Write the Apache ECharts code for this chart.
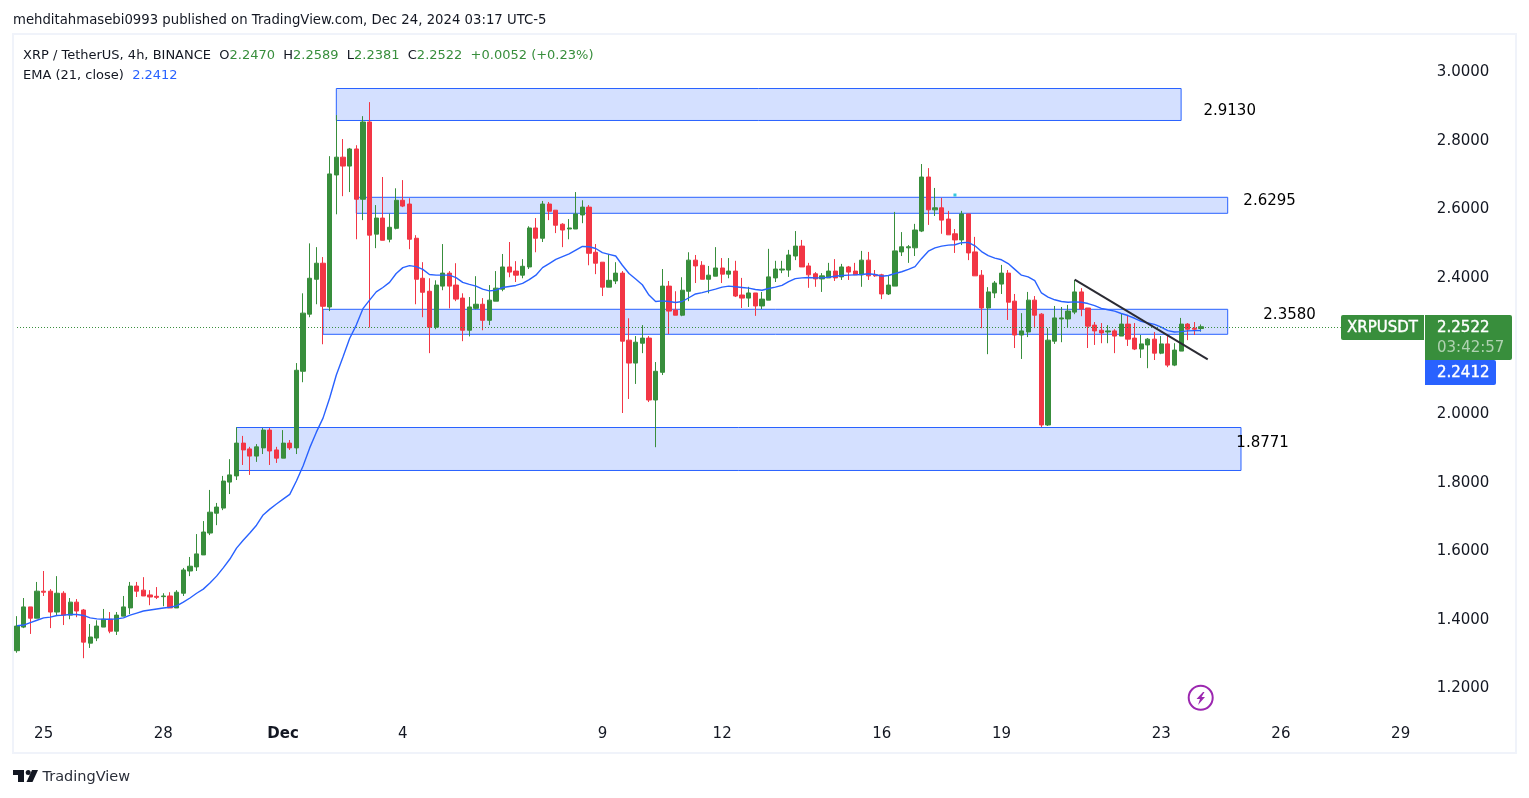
<!DOCTYPE html>
<html>
<head>
<meta charset="utf-8">
<title>XRPUSDT 4h</title>
<script src="https://cdn.jsdelivr.net/npm/echarts@6/dist/echarts.min.js"></script>
<style>
  html, body { margin: 0; padding: 0; background: #fff; }
  #main { width: 1529px; height: 798px; }
</style>
</head>
<body>
<div id="main"></div>
<script>
// values, one group of ten per line
const opens = [
  1.305,1.374,1.433,1.400,1.479,1.479,1.418,1.473,1.409,1.447,
  1.424,1.327,1.342,1.374,1.397,1.362,1.406,1.430,1.494,1.482,
  1.468,1.464,1.463,1.465,1.430,1.473,1.538,1.550,1.585,1.649,
  1.707,1.722,1.798,1.816,1.912,1.895,1.874,1.898,1.950,1.892,
  1.868,1.912,1.898,2.122,2.289,2.391,2.438,2.310,2.696,2.748,
  2.722,2.772,2.625,2.851,2.523,2.570,2.508,2.540,2.622,2.611,
  2.511,2.394,2.356,2.251,2.371,2.409,2.374,2.336,2.242,2.306,
  2.318,2.271,2.327,2.362,2.427,2.415,2.403,2.427,2.541,2.511,
  2.611,2.593,2.552,2.538,2.538,2.579,2.602,2.470,2.441,2.368,
  2.386,2.409,2.213,2.146,2.204,2.219,2.038,2.119,2.371,2.301,
  2.286,2.356,2.447,2.432,2.391,2.400,2.424,2.406,2.415,2.345,
  2.336,2.351,2.313,2.330,2.395,2.418,2.418,2.459,2.488,2.430,
  2.407,2.392,2.395,2.415,2.398,2.427,2.415,2.404,2.447,2.404,
  2.404,2.348,2.371,2.471,2.483,2.483,2.532,2.690,2.594,2.600,
  2.567,2.524,2.506,2.582,2.471,2.403,2.307,2.351,2.377,2.409,
  2.327,2.228,2.237,2.330,2.289,1.965,2.210,2.275,2.275,2.295,
  2.354,2.307,2.257,2.242,2.237,2.240,2.225,2.260,2.219,2.187,
  2.199,2.216,2.175,2.202,2.140,2.181,2.260,2.248,2.247
];
const closes = [
  1.377,1.433,1.400,1.479,1.476,1.418,1.473,1.409,1.447,1.421,
  1.330,1.345,1.377,1.397,1.362,1.409,1.433,1.494,1.479,1.465,
  1.462,1.461,1.465,1.430,1.476,1.541,1.552,1.588,1.652,1.710,
  1.725,1.801,1.819,1.912,1.892,1.874,1.901,1.950,1.889,1.868,
  1.912,1.898,2.125,2.292,2.394,2.438,2.312,2.699,2.748,2.722,
  2.772,2.625,2.851,2.520,2.570,2.505,2.543,2.622,2.605,2.508,
  2.391,2.353,2.251,2.374,2.409,2.371,2.333,2.242,2.310,2.318,
  2.271,2.330,2.365,2.427,2.412,2.403,2.429,2.541,2.511,2.611,
  2.590,2.549,2.535,2.541,2.582,2.602,2.467,2.438,2.368,2.388,
  2.409,2.210,2.146,2.207,2.219,2.038,2.122,2.371,2.298,2.286,
  2.359,2.447,2.430,2.391,2.403,2.424,2.406,2.415,2.342,2.336,
  2.351,2.313,2.333,2.398,2.421,2.421,2.462,2.488,2.427,2.404,
  2.392,2.401,2.415,2.395,2.427,2.412,2.404,2.447,2.401,2.401,
  2.348,2.374,2.474,2.486,2.486,2.535,2.690,2.594,2.600,2.564,
  2.521,2.506,2.582,2.468,2.401,2.307,2.354,2.380,2.409,2.324,
  2.228,2.240,2.330,2.286,1.965,2.213,2.278,2.278,2.298,2.354,
  2.304,2.254,2.240,2.234,2.240,2.225,2.260,2.216,2.187,2.202,
  2.216,2.175,2.202,2.140,2.184,2.260,2.245,2.245,2.2522
];
const lows = [
  1.299,1.371,1.354,1.400,1.465,1.371,1.409,1.380,1.397,1.403,
  1.283,1.313,1.333,1.374,1.356,1.351,1.406,1.412,1.462,1.465,
  1.438,1.456,1.435,1.430,1.430,1.465,1.523,1.538,1.585,1.643,
  1.672,1.716,1.763,1.804,1.848,1.819,1.857,1.880,1.848,1.854,
  1.868,1.892,1.880,2.090,2.280,2.318,2.201,2.298,2.581,2.634,
  2.646,2.508,2.564,2.250,2.482,2.505,2.499,2.537,2.602,2.479,
  2.318,2.280,2.175,2.245,2.359,2.306,2.327,2.210,2.224,2.303,
  2.242,2.257,2.327,2.356,2.397,2.383,2.394,2.421,2.470,2.500,
  2.564,2.526,2.485,2.508,2.538,2.555,2.432,2.406,2.342,2.368,
  2.377,2.000,2.041,2.085,2.175,2.032,1.900,2.111,2.231,2.286,
  2.283,2.327,2.380,2.391,2.350,2.400,2.380,2.394,2.339,2.307,
  2.310,2.284,2.304,2.330,2.383,2.409,2.398,2.447,2.427,2.366,
  2.369,2.354,2.395,2.386,2.389,2.389,2.404,2.369,2.389,2.398,
  2.333,2.345,2.371,2.459,2.439,2.459,2.529,2.550,2.576,2.524,
  2.521,2.468,2.491,2.447,2.401,2.248,2.172,2.336,2.348,2.272,
  2.190,2.158,2.222,2.248,1.959,1.962,2.202,2.207,2.251,2.289,
  2.283,2.190,2.199,2.204,2.204,2.175,2.225,2.196,2.184,2.161,
  2.131,2.155,2.172,2.134,2.137,2.181,2.213,2.228,2.2381
];
const highs = [
  1.406,1.459,1.433,1.506,1.538,1.485,1.523,1.479,1.459,1.456,
  1.427,1.383,1.394,1.427,1.418,1.418,1.465,1.506,1.506,1.520,
  1.482,1.491,1.473,1.476,1.482,1.547,1.579,1.646,1.684,1.775,
  1.737,1.816,1.865,1.958,1.933,1.901,1.909,1.956,1.956,1.901,
  1.950,1.921,2.146,2.350,2.496,2.485,2.456,2.751,2.871,2.801,
  2.775,2.783,2.868,2.909,2.608,2.690,2.583,2.657,2.681,2.628,
  2.520,2.441,2.394,2.388,2.494,2.415,2.438,2.350,2.339,2.400,
  2.336,2.374,2.415,2.465,2.500,2.444,2.450,2.546,2.570,2.620,
  2.617,2.593,2.555,2.567,2.646,2.622,2.608,2.494,2.441,2.465,
  2.441,2.415,2.277,2.225,2.257,2.225,2.149,2.421,2.386,2.356,
  2.397,2.470,2.462,2.444,2.430,2.485,2.453,2.453,2.445,2.395,
  2.369,2.351,2.354,2.480,2.445,2.445,2.477,2.532,2.506,2.439,
  2.412,2.409,2.439,2.450,2.436,2.430,2.439,2.474,2.471,2.418,
  2.407,2.401,2.588,2.529,2.491,2.553,2.728,2.716,2.658,2.629,
  2.591,2.538,2.591,2.582,2.515,2.418,2.368,2.386,2.433,2.418,
  2.348,2.292,2.354,2.342,2.292,2.248,2.313,2.310,2.316,2.389,
  2.365,2.307,2.266,2.263,2.257,2.245,2.292,2.286,2.263,2.228,
  2.219,2.237,2.225,2.225,2.204,2.278,2.263,2.266,2.2589
];
const emaValues = [
  1.378,1.380,1.387,1.394,1.401,1.403,1.408,1.409,1.411,1.411,
  1.408,1.401,1.398,1.397,1.397,1.398,1.401,1.409,1.415,1.421,
  1.424,1.427,1.430,1.432,1.436,1.447,1.459,1.473,1.485,1.503,
  1.523,1.547,1.573,1.605,1.628,1.649,1.672,1.702,1.719,1.734,
  1.748,1.762,1.801,1.845,1.898,1.944,1.985,2.044,2.111,2.164,
  2.218,2.257,2.305,2.330,2.354,2.367,2.382,2.408,2.425,2.431,
  2.428,2.420,2.405,2.403,2.403,2.403,2.396,2.382,2.376,2.371,
  2.362,2.357,2.359,2.367,2.370,2.373,2.379,2.390,2.403,2.425,
  2.437,2.449,2.457,2.465,2.476,2.487,2.486,2.481,2.469,2.464,
  2.459,2.432,2.408,2.392,2.375,2.345,2.326,2.328,2.326,2.323,
  2.326,2.337,2.348,2.352,2.357,2.362,2.368,2.371,2.369,2.367,
  2.365,2.361,2.359,2.364,2.368,2.373,2.384,2.393,2.395,2.396,
  2.395,2.395,2.397,2.400,2.402,2.403,2.404,2.405,2.407,2.405,
  2.400,2.402,2.408,2.413,2.420,2.428,2.452,2.473,2.483,2.488,
  2.491,2.492,2.498,2.499,2.489,2.472,2.460,2.453,2.448,2.437,
  2.420,2.403,2.398,2.387,2.351,2.339,2.331,2.326,2.324,2.325,
  2.324,2.320,2.314,2.306,2.302,2.298,2.291,2.285,2.277,2.268,
  2.263,2.259,2.251,2.241,2.237,2.238,2.240,2.241,2.2412
];

const barCount = 226;
const categories = [];
for (let i = 0; i < barCount; i++) categories.push(String(i));

const dayTickIndex = [4, 22, 40, 58, 88, 106, 130, 148, 172, 190, 208];
const dayTickLabels = ["25", "28", "Dec", "4", "9", "12", "16", "19", "23", "26", "29"];
const priceTicks = [1.2, 1.4, 1.6, 1.8, 2.0, 2.4, 2.6, 2.8, 3.0];

// zones: [from bar, to bar, top price, bottom price]
const zones = [
  [48, 175, 2.9488, 2.8553],
  [51, 182, 2.6307, 2.5839],
  [46, 182, 2.3032, 2.2301],
  [33, 184, 1.9576, 1.8319],
];
const levelLabels = ["2.9130", "2.6295", "2.3580", "1.8771"];
const levelBars = [182, 188, 191, 188];
const levelPrices = [2.886, 2.623, 2.289, 1.915];
const levelShift = [2, 2, 2, -5];

const trendBars = [159, 179];
const trendPrices = [2.3898, 2.1568];
// dotted line
const lastPriceLine = 2.25;
const lastPriceBars = [0, 199];
const cyanDot = [141, 2.6374];

const UP = "#388e3c";
const DOWN = "#f23645";
const BLUE = "#2962ff";
const INK = "#131722";
const FONT = "DejaVu Sans";

const myChart = echarts.init(document.getElementById("main"), null, { renderer: "canvas" });

myChart.setOption({
  animation: false,
  backgroundColor: "#fff",
  title: [
    {
      text: "mehditahmasebi0993 published on TradingView.com, Dec 24, 2024 03:17 UTC-5",
      left: 13, top: 14, padding: 0,
      textStyle: { fontFamily: FONT, fontSize: 13.25, fontWeight: "normal", color: INK },
    },
    {
      text: "XRP / TetherUS, 4h, BINANCE  O{g|2.2470}  H{g|2.2589}  L{g|2.2381}  C{g|2.2522}  {g|+0.0052 (+0.23%)}",
      left: 23, top: 49, padding: 0,
      textStyle: {
        fontFamily: FONT, fontSize: 13, fontWeight: "normal", color: INK,
        rich: { g: { fontFamily: FONT, fontSize: 13, color: UP } },
      },
    },
    {
      text: "EMA (21, close)  {b|2.2412}",
      left: 23, top: 69, padding: 0,
      textStyle: {
        fontFamily: FONT, fontSize: 13, fontWeight: "normal", color: INK,
        rich: { b: { fontFamily: FONT, fontSize: 13, color: BLUE } },
      },
    },
  ],
  grid: { left: 13.7, top: 36.8, width: 1503.35, height: 718.2, containLabel: false },
  xAxis: {
    type: "category",
    data: categories,
    boundaryGap: true,
    axisLine: { show: false },
    axisTick: { show: false },
    splitLine: { show: false },
    axisLabel: {
      inside: true,
      margin: 13,
      interval: (i) => dayTickIndex.includes(i),
      formatter: (val, i) => {
        const label = dayTickLabels[dayTickIndex.indexOf(i)];
        return label === "Dec" ? "{bold|Dec}" : label;
      },
      fontFamily: FONT,
      fontSize: 15,
      color: INK,
      rich: { bold: { fontFamily: FONT, fontSize: 15, fontWeight: "bold", color: INK } },
    },
  },
  yAxis: {
    type: "value",
    position: "right",
    min: 1.0,
    max: 3.1,
    axisLine: { show: false },
    axisTick: { show: false },
    splitLine: { show: false },
    axisLabel: {
      inside: true,
      margin: 27.7,
      customValues: priceTicks,
      formatter: (v) => "{p|" + v.toFixed(4) + "}",
      rich: { p: { fontFamily: FONT, fontSize: 15, color: INK, padding: [3, 0, 0, 0] } },
    },
  },
  series: [
    {
      // zones sit under the candles
      name: "zones",
      type: "line",
      data: [],
      z: 1,
      silent: true,
      markArea: {
        silent: true,
        itemStyle: { color: "rgba(41,98,255,0.2)", borderColor: BLUE, borderWidth: 1 },
        data: zones.map((z) => [
          { xAxis: z[0], yAxis: z[2] },
          { xAxis: z[1], yAxis: z[3] },
        ]),
      },
      markPoint: {
        silent: true,
        symbol: "circle",
        symbolSize: 0,
        data: levelLabels.map((t, i) => ({
          value: t,
          xAxis: levelBars[i],
          yAxis: levelPrices[i],
          label: {
            show: true,
            formatter: t,
            position: "inside",
            offset: [levelShift[i], 1],
            fontFamily: FONT,
            fontSize: 15,
            color: "#000",
          },
        })),
      },
    },
    {
      name: "XRPUSDT",
      type: "candlestick",
      z: 2,
      barWidth: 4.7,
      data: opens.map((o, i) => [o, closes[i], lows[i], highs[i]]),
      itemStyle: {
        color: UP,
        color0: DOWN,
        borderColor: UP,
        borderColor0: DOWN,
        borderWidth: 1,
      },
    },
    {
      name: "EMA (21, close)",
      type: "line",
      z: 3,
      data: emaValues,
      showSymbol: false,
      smooth: false,
      lineStyle: { color: BLUE, width: 1.4 },
    },
    {
      name: "dot",
      type: "scatter",
      z: 3,
      symbol: "rect",
      symbolSize: 3,
      data: [cyanDot],
      itemStyle: { color: "#00bcd4" },
    },
    {
      // last price line and hand drawn trendline
      name: "overlay",
      type: "line",
      data: [],
      z: 4,
      markLine: {
        silent: true,
        symbol: "none",
        label: { show: false },
        data: [
          [
            { xAxis: lastPriceBars[0], yAxis: lastPriceLine, lineStyle: { color: UP, type: [1, 2], width: 1 } },
            { xAxis: lastPriceBars[1], yAxis: lastPriceLine },
          ],
          [
            { xAxis: trendBars[0], yAxis: trendPrices[0], lineStyle: { color: "#2b2b33", type: "solid", width: 2 } },
            { xAxis: trendBars[1], yAxis: trendPrices[1] },
          ],
        ],
      },
    },
  ],
  graphic: [
    // panel frame
    { type: "rect", z: 0, shape: { x: 13, y: 34, width: 1503, height: 719 }, style: { fill: "none", stroke: "#f0f3fa", lineWidth: 2 } },
    // price tags
    { type: "rect", z: 50, shape: { x: 1341, y: 315, width: 83, height: 25, r: [2, 0, 0, 2] }, style: { fill: UP } },
    { type: "text", z: 51, style: { x: 1382.5, y: 328, text: "XRPUSDT", align: "center", verticalAlign: "middle", fontFamily: FONT, fontSize: 15, fill: "#fff", stroke: "#fff", lineWidth: 0.4 } },
    { type: "rect", z: 50, shape: { x: 1425, y: 315, width: 87, height: 45, r: [0, 2, 2, 0] }, style: { fill: UP } },
    { type: "text", z: 51, style: { x: 1437, y: 328, text: "2.2522", verticalAlign: "middle", fontFamily: FONT, fontSize: 15, fill: "#fff", stroke: "#fff", lineWidth: 0.4 } },
    { type: "text", z: 51, style: { x: 1437, y: 348.5, text: "03:42:57", verticalAlign: "middle", fontFamily: FONT, fontSize: 15, fill: "rgba(255,255,255,0.6)" } },
    { type: "rect", z: 50, shape: { x: 1425, y: 360, width: 71, height: 25, r: [0, 2, 2, 0] }, style: { fill: BLUE } },
    { type: "text", z: 51, style: { x: 1437, y: 373, text: "2.2412", verticalAlign: "middle", fontFamily: FONT, fontSize: 15, fill: "#fff", stroke: "#fff", lineWidth: 0.4 } },
    // lightning icon
    { type: "circle", z: 50, shape: { cx: 1200.7, cy: 697.8, r: 12 }, style: { fill: "#fff", stroke: "#9c27b0", lineWidth: 2 } },
    { type: "polygon", z: 51, shape: { points: [[1203, 692], [1196.5, 699], [1200, 699], [1198, 705], [1205, 697], [1201.5, 697], [1204.5, 692]] }, style: { fill: "#9c27b0" } },
    // TradingView logo
    { type: "polygon", z: 50, shape: { points: [[13, 770], [24, 770], [24, 782], [18, 782], [18, 775], [13, 775]] }, style: { fill: INK } },
    { type: "circle", z: 50, shape: { cx: 28.2, cy: 772.5, r: 2.5 }, style: { fill: INK } },
    { type: "polygon", z: 50, shape: { points: [[32, 770], [38, 770], [32.5, 782], [26.5, 782]] }, style: { fill: INK } },
    { type: "text", z: 50, style: { x: 42.5, y: 777, text: "TradingView", verticalAlign: "middle", fontFamily: FONT, fontSize: 14.5, fill: "#2a2e39" } },
  ],
});
</script>
</body>
</html>
